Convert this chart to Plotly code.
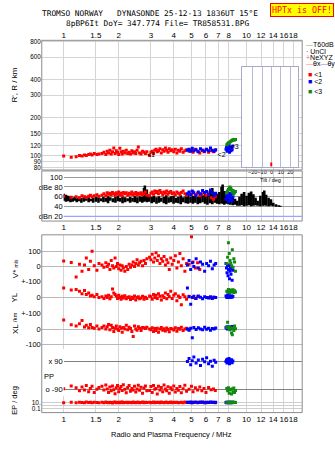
import math
import plotly.graph_objects as go

W, H = 335, 451

# ---------------- data ----------------
freq_ticks = [1, 1.5, 2, 3, 4, 5, 6, 7, 8, 10, 12, 14, 16, 18]
freq_text = ["1", "1.5", "2", "3", "4", "5", "6", "7", "8", "10", "12", "14", "16", "18"]
range_ticks = [80, 90, 100, 120, 150, 200, 300, 400, 600, 800]
db_ticks = [20, 40, 60, 80, 100]
db_text = ["dBn 20", "40", "60", "dBe 80", "100"]
tilt_ticks = [-20, -10, 0, 10, 20]

# red echoes (<1)
red_f = [1.00, 1.10, 1.17, 1.22, 1.26, 1.30, 1.33, 1.37, 1.40, 1.43, 1.47, 1.52, 1.56,
         1.62, 1.66, 1.70, 1.73, 1.76, 1.79, 1.82, 1.85, 1.88, 1.91, 1.94, 1.97, 2.00, 2.03, 2.06, 2.09, 2.12,
         2.16, 2.20, 2.24, 2.28, 2.32, 2.36, 2.40, 2.44, 2.48, 2.52, 2.56, 2.60, 2.65, 2.70, 2.75, 2.80, 2.85,
         2.95, 3.00, 3.05, 3.10, 3.15, 3.20, 3.25, 3.30, 3.36, 3.42, 3.48, 3.54, 3.60, 3.66, 3.72, 3.78, 3.85,
         3.92, 4.00, 4.08, 4.16, 4.24, 4.32, 4.40, 4.50, 4.60, 4.70,
         4.85, 5.00, 5.10, 5.25, 5.40, 5.55, 5.70, 5.85, 6.00, 6.20, 6.40, 6.60, 6.75]
red_range = [99, 97, 98, 100, 99, 101, 100, 102, 103, 101, 104, 102, 103,
             104, 106, 102, 108, 105, 110, 103, 107, 115, 104, 109, 106, 102, 114, 107, 103, 108,
             105, 110, 104, 106, 103, 109, 105, 107, 104, 110, 117, 105, 103, 108, 106, 104, 107,
             100, 106, 108, 104, 110, 112, 107, 109, 113, 105, 111, 108, 115, 110, 106, 113, 109,
             111, 107, 112, 105, 110, 108, 113, 106, 109, 111,
             108, 110, 106, 112, 108, 105, 110, 107, 111, 106, 109, 107, 110]
red_amp = [61, 59, 60, 58, 62, 60, 59, 61, 63, 60, 62, 64, 61,
           63, 66, 62, 68, 65, 67, 64, 69, 66, 63, 68, 65, 70, 64, 67, 62, 69,
           66, 68, 63, 67, 65, 70, 64, 66, 69, 63, 67, 65, 68, 64, 66, 70, 63,
           62, 67, 70, 65, 72, 68, 71, 66, 73, 69, 64, 70, 67, 72, 65, 69, 71,
           66, 68, 64, 70, 67, 65, 69, 72, 66, 63,
           68, 65, 70, 64, 67, 62, 66, 69, 63, 65, 58, 55, 60]
red_vstar = [36, 27, -68, 15, -30, 10, 55, -20, 35, 100, 5, -25, 20,
             10, -5, 25, 0, 15, -20, 40, 5, -10, 55, 0, 20, -15, 10, -25, 5, -10,
             -30, 0, -20, 15, -5, 10, 30, 0, 20, 45, 10, 25, 35, 5, 40, 20, 50,
             60, 45, 80, 30, 55, 90, 40, 70, 20, 50, 35, 65, 10, 45, 25, -20, 55,
             15, 40, 70, -10, 30, 85, 5, 50, -30, 20,
             15, 195, 30, -10, 25, -20, None, None, None, None, None, None, None]
red_yl = [62, 48, 52, 40, 25, 45, 20, 30, 10, 15, 5, 20, 0,
          5, -5, 10, 0, 15, -8, 5, 55, 30, 20, 10, -5, 15, 0, -10, 8, -3,
          12, -8, 0, 5, -12, 3, -5, 10, -15, 0, 5, -8, -3, 8, -10, 2, -5,
          10, 5, -10, 20, 0, 15, -5, 25, 8, -15, 12, 0, 30, -8, 20, 5, 40,
          -5, 15, 25, -20, 10, 0, -45, 18, 5, -10,
          8, None, 0, -5, 5, None, None, None, None, 0, -3, 2, None]
red_xl = [58, 27, 20, 35, 55, 14, 25, 8, 30, 10, 5, 20, 0,
          10, 20, 0, 15, 30, -5, 25, 10, -15, 5, 20, 0, -10, 15, 5, -20, 10,
          0, 25, -5, 12, 3, -15, -48, 20, 0, -8, 15, 5, -10, 10, 8, 3, 12,
          0, -5, 8, -15, 3, -10, 5, -20, 0, 10, -8, 2, -12, 6, -3, -18, 4,
          0, -6, 8, -14, 3, -2, 12, -10, 0, 5,
          -5, None, None, None, None, None, None, None, None, None, None, None, None]
red_pp = [-86, -69, -80, -100, -75, -95, -65, -105, -85, -70, -110, -90, -78,
          -70, -95, -62, -88, -110, -75, -100, -68, -92, -118, -80, -65, -105, -85, -72, -98, -60,
          -90, -112, -78, -66, -102, -84, -95, -70, -108, -88, -63, -96, -76, -115, -82, -68, -100,
          -98, -72, -110, -65, -90, -85, -120, -70, -95, -78, -105, -62, -88, -100, -74, -115, -80,
          -92, -68, -108, -84, -96, -72, -112, -86, -64, -102,
          -90, -70, -105, -80, -95, -75, -100, -85, -110, -78, -92, -88, -98]
red_ep = [9, 11, 8, 12, 10, 9, 13, 10, 11, 8, 12, 10, 9,
          11, 8, 13, 10, 9, 12, 10, 7, 11, 14, 9, 10, 12, 8, 11, 13, 9,
          10, 12, 8, 11, 10, 9, 13, 10, 8, 12, 11, 9, 10, 14, 8, 11, 10,
          12, 9, 10, 13, 8, 11, 10, 12, 9, 14, 10, 8, 11, 12, 9, 10, 13,
          8, 11, 10, 12, 9, 10, 11, 8, 13, 10,
          11, 9, 12, 10, 8, 13, 10, 11, 9, 12, 10, 11, 9]

# blue echoes (<2)
blue_f = [4.75, 4.85, 4.95, 5.05, 5.15, 5.30, 5.45, 5.60, 5.75, 5.90, 6.05, 6.20, 6.35, 6.50, 6.65, 6.78,
          7.72, 7.77, 7.82, 7.87, 7.92, 7.97, 8.02, 8.07, 8.12, 8.17, 8.22, 8.28, 8.34, 8.42]
blue_range = [110, 112, 108, 114, 109, 111, 107, 113, 110, 108, 112, 109, 115, 110, 108, 111,
              112, 116, 108, 118, 110, 114, 120, 106, 113, 117, 109, 115, 111, 119]
blue_amp = [66, 70, 64, 72, 68, 63, 70, 66, 73, 69, 71, 65, 74, 68, 62, 67,
            55, 62, 68, 58, 65, 50, 60, 67, 53, 63, 57, 66, 52, 60]
blue_vstar = [10, 40, -20, 25, 0, 50, -10, 30, 15, -30, 20, 5, 35, -15, 10, 20,
              20, -10, -40, 5, -60, -20, 10, -80, -30, 0, -50, -15, -90, -25]
blue_yl = [62, 5, -42, 0, 8, -5, 10, 2, -8, 5, 0, -3, 6, -5, 2, 0,
           10, 5, 0, 15, 8, 3, 20, 12, 0, 6, 42, 10, 2, 8]
blue_xl = [0, -8, 5, -56, 10, -3, 8, 0, -5, 12, -2, 5, -8, 3, 0, 6,
           10, 5, 15, 0, 12, 8, 3, 14, 6, 10, 2, 9, 16, 4]
blue_pp = [90, 110, 70, 95, 120, 80, 100, 65, 105, 88, 115, 75, 92, 60, 98, 85,
           90, 100, 80, 105, 85, 95, 110, 75, 92, 98, 88, 102, 82, 94]
blue_ep = [12, 10, 14, 9, 11, 13, 10, 12, 15, 9, 11, 10, 13, 12, 10, 11,
           10, 11, 9, 10, 12, 10, 9, 11, 10, 12, 9, 10, 11, 10]

# green echoes (<3)
green_f = [7.80, 7.88, 7.96, 8.04, 8.12, 8.20, 8.28, 8.36, 8.44, 8.52, 8.60, 8.70]
green_range = [122, 124, 126, 125, 128, 130, 131, 133, 132, 134, 133, 134]
green_amp = [68, 72, 75, 78, 80, 77, 74, 70, 73, 66, 69, 71]
green_vstar = [20, 60, 156, 85, 40, 21, 5, 110, -4, 50, 30, -30]
green_yl = [40, 35, 52, 45, 30, 48, 38, 42, 50, 33, 44, 36]
green_xl = [10, 44, 14, 0, -4, 8, -25, -36, 5, -10, 20, 2]
green_pp = [-85, -100, -80, -115, -95, -90, -120, -88, -105, -82, -110, -98]
green_ep = [9, 11, 10, 12, 8, 10, 11, 9, 13, 10, 12, 10]

# black amplitude envelope (T60dB)
black_f = [1.00, 1.03, 1.06, 1.09,
           1.12, 1.15, 1.18, 1.21, 1.25, 1.29, 1.33, 1.37, 1.41, 1.45, 1.50,
           1.55, 1.60, 1.65, 1.70, 1.75, 1.80, 1.86, 1.92, 1.98, 2.04, 2.10, 2.17, 2.24, 2.31, 2.38, 2.45,
           2.53, 2.61, 2.69,
           2.75, 2.78, 2.85, 2.94,
           3.03, 3.12, 3.22, 3.32, 3.42, 3.53, 3.64, 3.75, 3.87, 3.99, 4.11, 4.24, 4.37, 4.51, 4.65, 4.79, 4.94,
           5.09, 5.25, 5.41, 5.58, 5.75, 5.93, 6.11, 6.30, 6.50, 6.70, 6.90,
           7.10, 7.30, 7.40, 7.55, 7.75, 7.95, 8.15, 8.40, 8.65, 8.90,
           9.15, 9.40, 9.70, 10.0, 10.3, 10.6, 10.9, 11.2,
           11.5, 11.9, 12.3, 12.5, 12.8, 13.2, 13.6, 14.0, 14.5, 15.0, 15.3]
black_hi = [66, 64, 62, 60,
            58, 60, 57, 59, 58, 61, 57, 59, 56, 58, 60,
            59, 57, 60, 58, 61, 59, 57, 60, 62, 58, 61, 59, 57, 60, 58, 62,
            59, 61, 60,
            78, 83, 75, 64,
            60, 62, 59, 61, 58, 60, 63, 59, 61, 62, 58, 60, 63, 59, 61, 64, 60,
            62, 64, 60, 66, 63, 68, 65, 72, 78, 70, 66,
            70, 80, 85, 72, 62, 58, 55, 60, 56, 52,
            60, 66, 70, 62, 68, 71, 65, 58,
            52, 62, 70, 73, 64, 58, 55, 48, 45, 43, 42]
black_lo = [52, 50, 51, 49,
            50, 52, 49, 51, 48, 50, 52, 49, 51, 48, 50,
            48, 51, 49, 50, 47, 52, 49, 48, 51, 50, 47, 49, 51, 48, 50, 49,
            47, 50, 48,
            50, 52, 49, 50,
            47, 49, 46, 48, 50, 47, 45, 48, 49, 46, 48, 47, 45, 49, 47, 46, 48,
            46, 48, 45, 47, 49, 46, 44, 47, 45, 48, 46,
            45, 47, 46, 44, 46, 45, 44, 43, 44, 42,
            42, 43, 41, 42, 43, 41, 42, 43,
            42, 41, 42, 43, 42, 41, 42, 41, 40, 40, 40]

# echo-trace labels in the range panel
trace_labels = ["<1", "<2", "<3"]
label_f = [3.0, 7.3, 8.6]
label_range = [100, 100, 117]

# tilt histogram (inset)
tilt_x = [0]
tilt_count = [1]

# ---------------- helpers ----------------
def ydom(top, bot):
    return [1 - bot / H, 1 - top / H]

def xdom(left, right):
    return [left / W, right / W]

RED, BLUE, GREEN = "#ff0000", "#0000ff", "#108a10"
FONT = "Liberation Sans, Arial, sans-serif"
MONO = "DejaVu Sans Mono, Liberation Mono, monospace"
GRID = "#d4d4d4"
MS = 3

fig = go.Figure()

def pts(x, y, color, xa, ya, size=MS):
    fig.add_trace(go.Scatter(x=x, y=y, mode="markers", xaxis=xa, yaxis=ya,
                             marker=dict(symbol="square", size=size, color=color, line=dict(width=0)),
                             hoverinfo="skip", cliponaxis=True))

# top panel: virtual range
pts(red_f, red_range, RED, "x", "y")
pts(blue_f, blue_range, BLUE, "x", "y")
pts(green_f, green_range, GREEN, "x", "y")

# amplitude panel
bx, by = [], []
for f, lo, hi in zip(black_f, black_lo, black_hi):
    bx += [f, f, None]
    by += [lo, hi, None]
fig.add_trace(go.Scatter(x=bx, y=by, mode="lines", xaxis="x2", yaxis="y2",
                         line=dict(color="black", width=2.6), hoverinfo="skip"))
pts(red_f, red_amp, RED, "x2", "y2")
pts(blue_f, blue_amp, BLUE, "x2", "y2")
pts(green_f, green_amp, GREEN, "x2", "y2")

# velocity panels
for ya, r, b, g in [("y3", red_vstar, blue_vstar, green_vstar),
                    ("y4", red_yl, blue_yl, green_yl),
                    ("y5", red_xl, blue_xl, green_xl),
                    ("y6", red_ep, blue_ep, green_ep)]:
    pts(red_f, r, RED, "x3", ya)
    pts(blue_f, b, BLUE, "x3", ya)
    pts(green_f, g, GREEN, "x3", ya)

# polarization
pts(red_f, red_pp, RED, "x4", "y7")
pts(blue_f, blue_pp, BLUE, "x4", "y7")
pts(green_f, green_pp, GREEN, "x4", "y7")

# tilt inset
fig.add_trace(go.Bar(x=tilt_x, y=tilt_count, xaxis="x5", yaxis="y8", width=0.9,
                     marker=dict(color=RED, line=dict(width=0)), hoverinfo="skip"))

# trace labels
for t, f, r in zip(trace_labels, label_f, label_range):
    fig.add_trace(go.Scatter(x=[f], y=[r], mode="text", text=[t], xaxis="x", yaxis="y",
                             textfont=dict(size=7, color="black", family=FONT), hoverinfo="skip"))

# ---------------- axes ----------------
XR = [math.log10(0.759), math.log10(20.15)]
XR2 = [0, math.log10(20.15)]
tickfont = dict(family=FONT, size=7.5, color="black")

def freq_axis(dom, anchor, rng, side="bottom", labels=True):
    return dict(type="log", domain=dom, anchor=anchor, range=rng, side=side,
                tickvals=freq_ticks, ticktext=freq_text, showticklabels=labels, tickangle=0,
                tickfont=dict(family=FONT, size=8, color="black"), ticks="",
                showgrid=True, gridcolor=GRID, gridwidth=1, zeroline=False, showline=False)

layout = dict(
    width=W, height=H, margin=dict(l=0, r=0, t=0, b=0),
    paper_bgcolor="white", plot_bgcolor="white", showlegend=False,
    xaxis=freq_axis(xdom(40, 302), "y", XR, side="top"),
    xaxis2=freq_axis(xdom(62, 302), "y2", XR2),
    xaxis3=freq_axis(xdom(40, 302), "y6", XR),
    xaxis4=freq_axis(xdom(62, 302), "y7", XR2, labels=False),
    xaxis5=dict(domain=xdom(241.7, 297.7), anchor="y8", range=[-31, 28], tickvals=tilt_ticks,
                tickangle=0, ticks="", tickfont=dict(family=FONT, size=5.5, color="black"),
                showgrid=True, gridcolor="#b8b8d8", zeroline=False,
                showline=True, linecolor="#a8a8cc", mirror=True),
    yaxis=dict(type="log", domain=ydom(38, 170), anchor="x",
               range=[math.log10(76.9), math.log10(815)], tickvals=range_ticks,
               tickfont=dict(family=FONT, size=6.3, color="black"), ticks="", showgrid=True,
               gridcolor=GRID, zeroline=False),
    yaxis2=dict(domain=ydom(171, 222), anchor="x2", range=[10.6, 112.6], tickvals=db_ticks,
                ticktext=db_text, tickfont=tickfont, ticks="", showgrid=True,
                gridcolor="#9a9a9a", zeroline=False),
    yaxis3=dict(domain=ydom(236, 284), anchor="x3", range=[-100.6, 207], tickvals=[100, 0, -100],
                ticktext=["100", "0", "+-100"], tickfont=tickfont, ticks="", showgrid=True,
                gridcolor="#b8b8b8", zeroline=False),
    yaxis4=dict(domain=ydom(284, 316), anchor="x3", range=[-101, 100], tickvals=[0, -100],
                ticktext=["0", "+-100"], tickfont=tickfont, ticks="", showgrid=True,
                gridcolor="#b8b8b8", zeroline=False),
    yaxis5=dict(domain=ydom(316, 352), anchor="x3", range=[-127, 101], tickvals=[0, -100],
                ticktext=["0", "-100"], tickfont=tickfont, ticks="", showgrid=True,
                gridcolor="#b8b8b8", zeroline=False),
    yaxis6=dict(type="log", domain=ydom(400, 417), anchor="x3", range=[-2.12, 3.03],
                tickvals=[10, 1, 0.1], ticktext=["10.", "", "0.1"],
                tickfont=dict(family=FONT, size=6.5, color="black"), ticks="",
                showgrid=True, gridcolor="#cfcfcf", zeroline=False),
    yaxis7=dict(domain=ydom(352, 400), anchor="x4", range=[-132.7, 172.8], tickvals=[90, -90],
                ticktext=["x 90", "o -90"], tickfont=tickfont, ticks="", showgrid=True,
                gridcolor="#808080", zeroline=False),
    yaxis8=dict(domain=ydom(65, 166.5), anchor="x5", range=[0, 25], showticklabels=False,
                ticks="", showgrid=False, zeroline=False, showline=True, linecolor="#a8a8cc",
                mirror=True),
)
fig.update_layout(**layout)

# ---------------- decorations ----------------
FRAME = "#8c8c8c"
shapes = []
for top, bot in [(38, 170), (171, 222), (236, 417)]:
    shapes.append(dict(type="rect", xref="paper", yref="paper", x0=40 / W, x1=302 / W,
                       y0=1 - bot / H, y1=1 - top / H, line=dict(color=FRAME, width=1),
                       layer="above"))
shapes.append(dict(type="line", xref="x2 domain", yref="y2", x0=0, x1=1, y0=20, y1=20,
                   line=dict(color="#a0a0ff", width=1.2), layer="above"))
shapes.append(dict(type="rect", xref="x5 domain", yref="y8 domain", x0=0, x1=1, y0=0, y1=1,
                   fillcolor="white", line=dict(width=0), layer="below"))
fig.update_layout(shapes=shapes)

ann = []
def A(text, x, y, size=7.5, color="black", family=FONT, angle=0, xanchor="center", **kw):
    ann.append(dict(text=text, x=x / W, y=1 - y / H, xref="paper", yref="paper",
                    showarrow=False, font=dict(size=size, color=color, family=family),
                    textangle=angle, xanchor=xanchor, yanchor="middle", **kw))

A("TROMSO NORWAY   DYNASONDE 25-12-13 1836UT 15°E", 149, 11, size=7.8, family=MONO)
A("8pBP6It DoY= 347.774 File= TR858531.BPG", 156, 21, size=7.8, family=MONO)
A("HPTx is OFF!", 301.5, 7, size=8.3, family=MONO, color="red", bgcolor="#ffff00",
  bordercolor="red", borderwidth=1, borderpad=1)
A("R', R / km", 13, 83, size=8, angle=-90)
A("V* <span style='font-size:5px'>m/s</span>", 13, 270, size=8, angle=-90)
A("YL", 13, 300, size=8, angle=-90)
A("/km", 13, 320, size=6, angle=-90)
A("XL", 13, 332, size=8, angle=-90)
A("EP / deg", 13, 404, size=7.5, angle=-90)
A("PP", 47, 380, size=7.5)
A("Radio and Plasma Frequency / MHz", 171, 439, size=7.5)
A("Tilt / deg", 270, 180.5, size=5.5)
# legend
A("<span style='color:#a0a0a0'>—</span>T60dB", 304, 42.3, size=7, xanchor="left")
A("<span style='color:#000'>·</span> UnCl", 304, 49, size=7, xanchor="left")
A("<span style='color:#ff6080'>+</span>NeXYZ", 304, 55.7, size=7, xanchor="left")
A("<span style='color:#ff8080'>—</span>θx<span style='color:#8080ff'>—</span>θy", 304, 62.3,
  size=7, xanchor="left")
A("<span style='color:#ff0000'>■</span> <1", 306, 72.7, size=7, xanchor="left")
A("<span style='color:#0000ff'>■</span> <2", 306, 80.3, size=7, xanchor="left")
A("<span style='color:#108a10'>■</span> <3", 306, 90, size=7, xanchor="left")
fig.update_layout(annotations=ann)

fig.write_html("out.html")
